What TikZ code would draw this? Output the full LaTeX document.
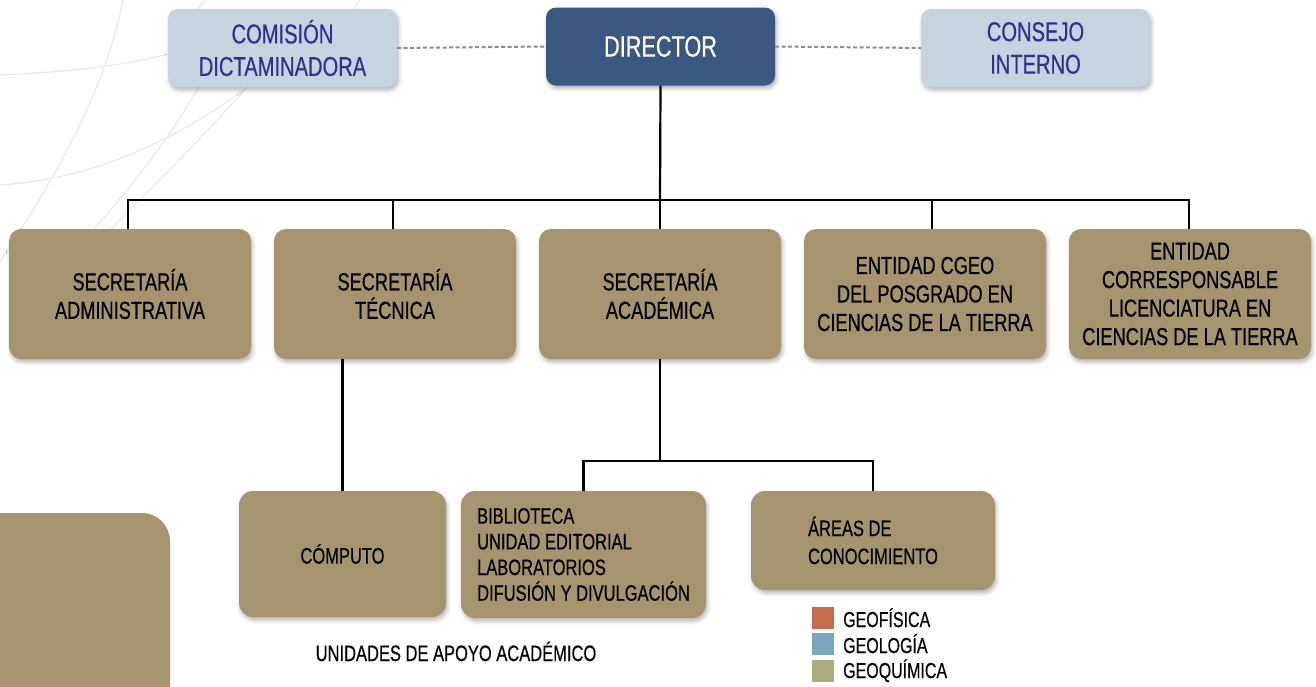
\documentclass[tikz,border=0pt]{standalone}
\usepackage{fontspec}
\setmainfont{Liberation Sans}[FakeStretch=0.74, FakeBold=0.45]
\usetikzlibrary{shadows.blur}
\definecolor{boxtan}{HTML}{A6946F}
\definecolor{lightbl}{HTML}{C5D5DF}
\definecolor{dirblue}{HTML}{3B5880}
\definecolor{comtext}{HTML}{2E3192}
\definecolor{dashgray}{HTML}{8C8C8C}
\definecolor{bgline}{HTML}{E8E8E8}
\definecolor{geof}{HTML}{C76B4F}
\definecolor{geol}{HTML}{7BA7BE}
\definecolor{geoq}{HTML}{A9AE7C}
\tikzset{
  shad/.style={blur shadow={shadow xshift=1.5pt, shadow yshift=-3pt, shadow blur radius=4pt, shadow opacity=30}},
  topbox/.style={rounded corners=10pt, fill=lightbl, minimum width=229pt, minimum height=78pt, inner sep=0pt, align=center, text=comtext, font=\fontsize{27.2}{32.5}\selectfont, shad},
  dirbox/.style={topbox, fill=dirblue, text=white, font=\fontsize{29.3}{32}\selectfont},
  secbox/.style={rounded corners=12pt, fill=boxtan, minimum width=242pt, minimum height=130pt, inner sep=0pt, align=center, text=black, font=\fontsize{24.6}{28.5}\selectfont, shad},
  unitbox/.style={rounded corners=14pt, fill=boxtan, inner sep=0pt, text=black, font=\fontsize{22.3}{25.7}\selectfont, shad},
  conn/.style={draw=black, line width=2.2pt},
  dashconn/.style={draw=dashgray, line width=2pt, dash pattern=on 4pt off 2.5pt},
  bg/.style={draw=bgline, line width=1.1pt},
  legsq/.style={minimum width=22pt, minimum height=22pt, inner sep=0pt},
  legtxt/.style={inner sep=0pt, font=\fontsize{21.6}{26}\selectfont, text=black},
}
\begin{document}
\begin{tikzpicture}[x=1pt,y=-1pt]
\useasboundingbox (0,0) rectangle (1316,686);
\begin{scope}
\clip (0,0) rectangle (1316,686);
% background globe lines
\draw[bg] (123,0) .. controls (105,90) and (60,170) .. (0,262);
\draw[bg] (0,75) .. controls (70,72) and (130,65) .. (175,52) .. controls (220,38) and (250,25) .. (270,10);
\draw[bg] (0,185) .. controls (80,180) and (170,150) .. (270,70);
\draw[bg] (200,84) .. controls (175,130) and (135,185) .. (75,250);
\draw[bg] (250,84) .. controls (200,140) and (150,190) .. (95,245);
\draw[bg] (180,40) .. controls (188,25) and (195,12) .. (205,0);
\draw[bg] (335,40) .. controls (343,25) and (350,12) .. (360,0);
% bottom-left panel
\fill[boxtan, rounded corners=28pt] (-40,730) -- (-40,513) -- (170,513) -- (170,730) -- cycle;
\end{scope}

% top row
\node[topbox] (com) at (282.5,48) {COMISIÓN\\DICTAMINADORA};
\node[dirbox] (dir) at (660.5,46.5) {DIRECTOR};
\node[topbox] (con) at (1035.5,48) {CONSEJO\\INTERNO};
\draw[dashconn] (com.east) -- (dir.west);
\draw[dashconn] (dir.east) -- (con.west);

% second row
\node[secbox] (sa) at (130,294) {SECRETARÍA\\ADMINISTRATIVA};
\node[secbox] (st) at (395,294) {SECRETARÍA\\TÉCNICA};
\node[secbox] (sac) at (660,294) {SECRETARÍA\\ACADÉMICA};
\node[secbox] (ent) at (925,294) {ENTIDAD CGEO\\DEL POSGRADO EN\\CIENCIAS DE LA TIERRA};
\node[secbox] (ecor) at (1190,294) {ENTIDAD\\CORRESPONSABLE\\LICENCIATURA EN\\CIENCIAS DE LA TIERRA};

\coordinate (bus) at (660,200);
\draw[conn] (dir.south) -- (bus);
\draw[conn] (bus) -| ([xshift=-2pt]sa.north);
\draw[conn] (bus) -| ([xshift=-2pt]st.north);
\draw[conn] (bus) -- (sac.north);
\draw[conn] (bus) -| ([xshift=7pt]ent.north);
\draw[conn] (bus) -| ([xshift=-1pt]ecor.north);

% third row
\node[unitbox, minimum width=207pt, minimum height=126pt, align=center] (comp) at (342.5,554) {CÓMPUTO};
\node[unitbox, minimum width=245pt, minimum height=127pt, align=left] (bib) at (583.5,554.5) {BIBLIOTECA\\UNIDAD EDITORIAL\\LABORATORIOS\\DIFUSIÓN Y DIVULGACIÓN};
\node[unitbox, minimum width=244pt, minimum height=99pt, align=left, font=\fontsize{22.3}{28}\selectfont] (areas) at (873,540.5) {ÁREAS DE\\CONOCIMIENTO};

\draw[conn] (st.south -| comp.north) -- (comp.north);
\coordinate (bus2) at (660,461);
\draw[conn] (sac.south) -- (bus2);
\draw[conn] (bus2) -| (bib.north);
\draw[conn] (bus2) -| (areas.north);

\node[legtxt, anchor=base, font=\fontsize{22.3}{26}\selectfont] (uaa) at (456,661) {UNIDADES DE APOYO ACADÉMICO};

% legend
\node[legsq, fill=geof] (sq1) at (823,618) {};
\node[legsq, fill=geol] (sq2) at (823,644) {};
\node[legsq, fill=geoq] (sq3) at (823,671) {};
\node[legtxt, anchor=base west] (l1) at (843,627) {GEOFÍSICA};
\node[legtxt, anchor=base west] (l2) at (843,653) {GEOLOGÍA};
\node[legtxt, anchor=base west] (l3) at (843,678) {GEOQUÍMICA};
\end{tikzpicture}
\end{document}
